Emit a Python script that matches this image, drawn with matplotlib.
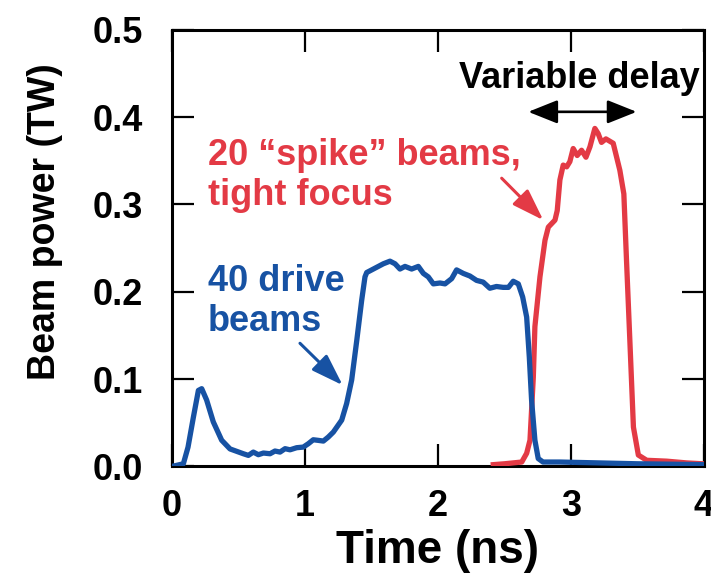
import matplotlib.pyplot as plt

plt.rcParams["font.family"] = ["Liberation Sans", "DejaVu Sans"]
plt.rcParams["font.weight"] = "bold"

# drive beams (blue)
drive_t = [0.0, 0.085, 0.12, 0.16, 0.198, 0.223, 0.26, 0.31, 0.373, 0.436,
           0.536, 0.574, 0.611, 0.649, 0.687, 0.737, 0.774, 0.812, 0.85, 0.887,
           0.937, 0.987, 1.025, 1.062, 1.1, 1.138, 1.175, 1.213, 1.276, 1.313,
           1.351, 1.389, 1.426, 1.451, 1.464, 1.514, 1.589, 1.639, 1.677, 1.714,
           1.752, 1.802, 1.852, 1.89, 1.927, 1.965, 2.015, 2.053, 2.103, 2.14,
           2.19, 2.24, 2.29, 2.34, 2.39, 2.44, 2.49, 2.53, 2.566, 2.604,
           2.637, 2.667, 2.687, 2.704, 2.729, 2.754, 2.79, 2.917, 3.5, 4.0]
drive_p = [0.0, 0.003, 0.022, 0.056, 0.087, 0.089, 0.076, 0.051, 0.030, 0.020,
           0.0145, 0.0126, 0.0164, 0.0134, 0.0153, 0.0145, 0.0176, 0.0164, 0.0203, 0.019,
           0.0214, 0.0221, 0.026, 0.0305, 0.0298, 0.029, 0.0336, 0.0393, 0.053, 0.072,
           0.099, 0.144, 0.19, 0.217, 0.222, 0.226, 0.232, 0.235, 0.232, 0.226,
           0.229, 0.226, 0.229, 0.221, 0.217, 0.209, 0.21, 0.209, 0.215, 0.225,
           0.221, 0.218, 0.213, 0.211, 0.204, 0.206, 0.205, 0.205, 0.212, 0.209,
           0.194, 0.171, 0.125, 0.076, 0.030, 0.009, 0.005, 0.005, 0.003, 0.002]

# spike beams (red)
spike_t = [2.416, 2.5, 2.63, 2.667, 2.692, 2.717, 2.729, 2.767, 2.805, 2.83,
           2.88, 2.897, 2.917, 2.942, 2.968, 2.992, 3.017, 3.047, 3.08, 3.113,
           3.143, 3.18, 3.205, 3.23, 3.263, 3.318, 3.368, 3.398, 3.418, 3.444,
           3.47, 3.507, 3.57, 3.72, 3.87, 3.99]
spike_p = [0.002, 0.003, 0.005, 0.015, 0.03, 0.102, 0.16, 0.217, 0.259, 0.274,
           0.282, 0.293, 0.328, 0.345, 0.343, 0.349, 0.364, 0.356, 0.362, 0.354,
           0.366, 0.387, 0.381, 0.371, 0.375, 0.37, 0.339, 0.312, 0.236, 0.141,
           0.045, 0.013, 0.007, 0.006, 0.004, 0.003]

blue = "#1752a3"
red = "#e33a45"

fig = plt.figure(figsize=(7.11, 5.83), dpi=100)
ax = fig.add_axes([0.242, 0.2, 0.748, 0.749])

ax.plot(spike_t, spike_p, color=red, lw=3.8, solid_joinstyle="round", zorder=3)
ax.plot(drive_t, drive_p, color=blue, lw=3.8, solid_joinstyle="round", zorder=4)

ax.set_xlim(0, 4)
ax.set_ylim(0, 0.5)
ax.set_xticks([0, 1, 2, 3, 4])
ax.set_yticks([0.0, 0.1, 0.2, 0.3, 0.4, 0.5])
ax.set_yticklabels(["0.0", "0.1", "0.2", "0.3", "0.4", "0.5"])
ax.tick_params(direction="in", length=16, width=1.6, top=True, right=True,
               labelsize=26)
ax.tick_params(axis="x", pad=16)
ax.tick_params(axis="y", pad=21)
for s in ax.spines.values():
    s.set_linewidth(2.2)

ax.set_xlabel("Time (ns)", fontsize=33, fontweight="bold")
ax.set_ylabel("Beam power (TW)", fontsize=27, fontweight="bold")
ax.xaxis.set_label_coords(0.5, -0.143)
ax.yaxis.set_label_coords(-0.205, 0.56)

# annotations
ax.text(0.27, 0.232, "40 drive\nbeams", color=blue, fontsize=26,
        fontweight="bold", ha="left", va="top", linespacing=1.18)
ax.annotate("", xy=(1.283, 0.093), xytext=(0.962, 0.141),
            arrowprops=dict(arrowstyle="-|>,head_length=0.65,head_width=0.22",
                            color=blue, lw=2.2, mutation_scale=30,
                            shrinkA=0, shrinkB=0))

ax.text(0.27, 0.376, "20 \u201cspike\u201d beams,\ntight focus", color=red,
        fontsize=26, fontweight="bold", ha="left", va="top", linespacing=1.18)
ax.annotate("", xy=(2.792, 0.282), xytext=(2.479, 0.33),
            arrowprops=dict(arrowstyle="-|>,head_length=0.65,head_width=0.22",
                            color=red, lw=2.2, mutation_scale=30,
                            shrinkA=0, shrinkB=0))

ax.text(3.06, 0.433, "Variable delay", color="black", fontsize=26,
        fontweight="bold", ha="center", va="baseline")
ax.annotate("", xy=(3.494, 0.406), xytext=(2.679, 0.406),
            arrowprops=dict(arrowstyle="<|-|>,head_length=0.6,head_width=0.24",
                            color="black", lw=1.9, mutation_scale=30,
                            shrinkA=0, shrinkB=0))

fig.savefig("out.png", dpi=100)
